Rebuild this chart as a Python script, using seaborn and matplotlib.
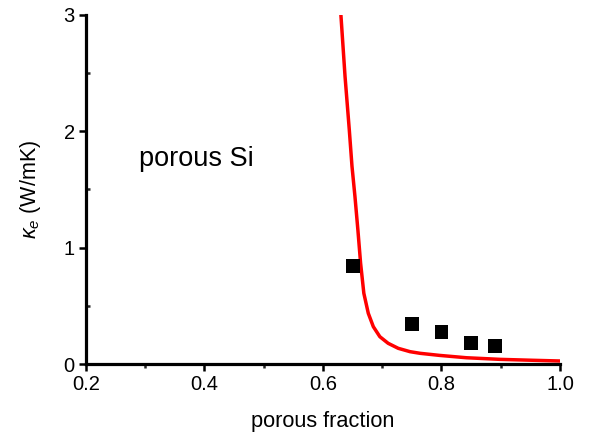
import numpy as np
import pandas as pd
import seaborn as sns
import matplotlib
matplotlib.use("Agg")
import matplotlib.pyplot as plt
from matplotlib.ticker import MultipleLocator, FormatStrFormatter

# model curve
curve_x = [0.6303, 0.6373, 0.6445, 0.649, 0.654, 0.659, 0.6635, 0.669, 0.6765,
           0.685, 0.696, 0.710, 0.727, 0.747, 0.764, 0.797, 0.842, 0.899,
           0.955, 1.000]
curve_y = [3.00, 2.47, 2.01, 1.70, 1.44, 1.15, 0.868, 0.608, 0.436,
           0.321, 0.235, 0.178, 0.135, 0.106, 0.092, 0.074, 0.054, 0.040,
           0.032, 0.026]

# measured points
meas_x = [0.65, 0.75, 0.80, 0.85, 0.89]
meas_y = [0.845, 0.344, 0.275, 0.18, 0.155]

curve = pd.DataFrame({"f": curve_x, "k": curve_y})
meas = pd.DataFrame({"f": meas_x, "k": meas_y})

sns.set_style("ticks")
plt.rcParams["font.family"] = ["Liberation Sans", "DejaVu Sans"]
plt.rcParams["mathtext.fontset"] = "custom"
plt.rcParams["mathtext.it"] = "Liberation Sans:italic"
plt.rcParams["mathtext.rm"] = "Liberation Sans"
plt.rcParams["text.color"] = "black"
plt.rcParams["axes.labelcolor"] = "black"

fig = plt.figure(figsize=(5.92, 4.37), dpi=100)
ax = fig.add_axes([0.145, 0.167, 0.801, 0.799])

sns.lineplot(data=curve, x="f", y="k", color="#ff0000", lw=2.5, ax=ax, sort=False,
             solid_joinstyle="round")
sns.scatterplot(data=meas, x="f", y="k", marker="s", color="black", s=100,
                edgecolor="none", ax=ax, zorder=3)

ax.set_xlim(0.2, 1.0)
ax.set_ylim(0, 3)
ax.xaxis.set_major_locator(MultipleLocator(0.2))
ax.xaxis.set_minor_locator(MultipleLocator(0.1))
ax.yaxis.set_major_locator(MultipleLocator(1))
ax.yaxis.set_minor_locator(MultipleLocator(0.5))
ax.xaxis.set_major_formatter(FormatStrFormatter("%.1f"))

for s in ["top", "right"]:
    ax.spines[s].set_visible(False)
for s in ["left", "bottom"]:
    ax.spines[s].set_linewidth(2.3)
    ax.spines[s].set_color("black")

ax.tick_params(which="major", direction="out", length=5, width=1.8,
               labelsize=14.5, colors="black", pad=3)
ax.tick_params(axis="x", which="minor", direction="out", length=3, width=1.8)
ax.tick_params(axis="y", which="minor", direction="in", length=3, width=1.8)

ax.set_xlabel("porous fraction", fontsize=15.7, labelpad=12)
ax.set_ylabel(r"$\kappa_e$ (W/mK)", fontsize=15.5, labelpad=15)

ax.text(0.29, 1.70, "porous Si", fontsize=19.5)

fig.savefig("out.png", dpi=100)
